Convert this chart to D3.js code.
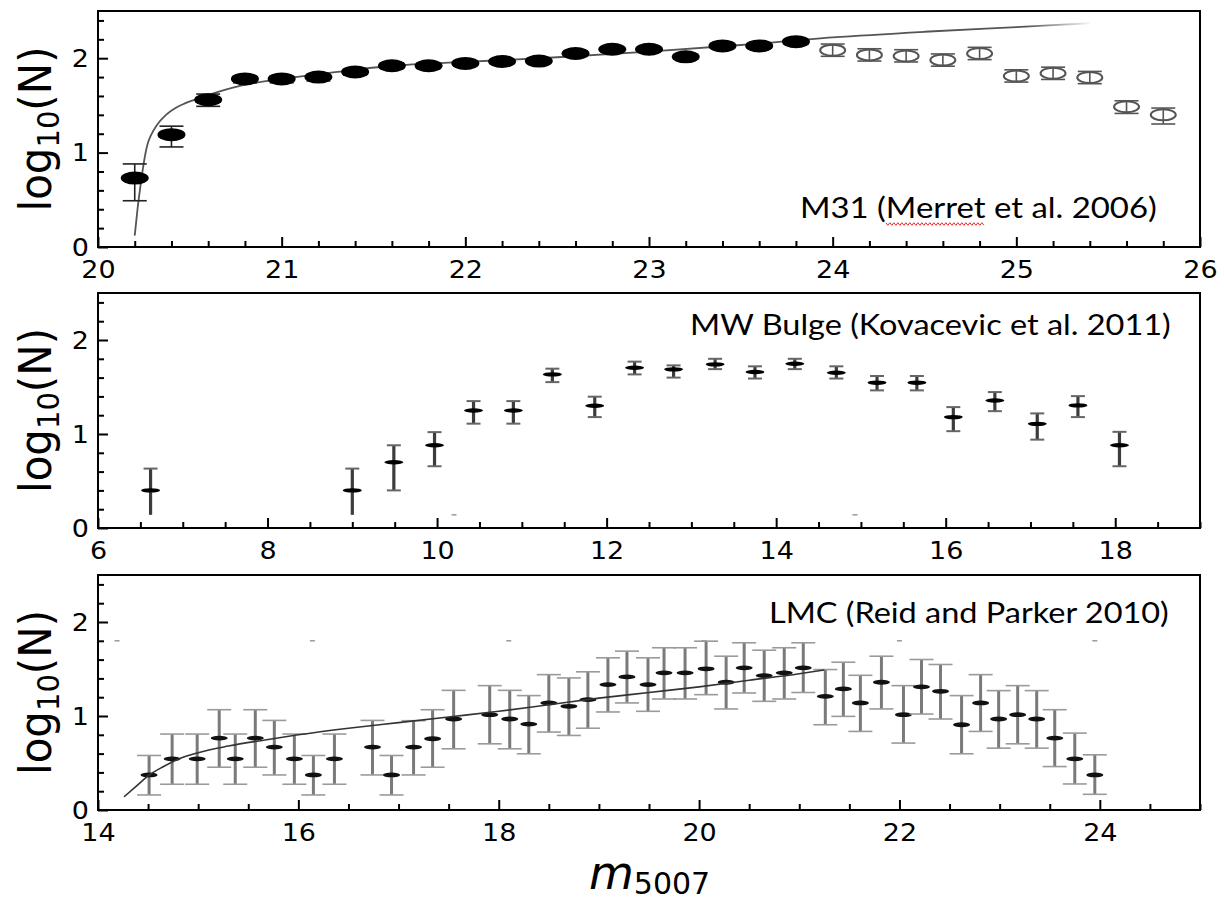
<!DOCTYPE html>
<html>
<head>
<meta charset="utf-8">
<script src="https://cdn.jsdelivr.net/npm/d3@7"></script>
<style>
  body { margin: 0; background: #fff; }
  svg { display: block; font-family: "DejaVu Sans", sans-serif; }
  text { fill: #000; }
</style>
</head>
<body>
<div id="viz"></div>
<script>

// ---- M31 (Merrett et al. 2006), filled points
var m31X  = [20.2, 20.4, 20.6, 20.8, 21.0, 21.2, 21.4, 21.6, 21.8, 22.0, 22.2, 22.4, 22.6, 22.8, 23.0, 23.2, 23.4, 23.6, 23.8];
var m31Y  = [0.73, 1.19, 1.56, 1.78, 1.78, 1.80, 1.855, 1.92, 1.92, 1.945, 1.965, 1.97, 2.05, 2.095, 2.095, 2.015, 2.13, 2.13, 2.175];
var m31Lo = [0.49, 1.06, 1.49, 1.74, 1.74, 1.76, 1.82, 1.89, 1.89, 1.92, 1.94, 1.94, 2.02, 2.07, 2.07, 1.99, 2.11, 2.11, 2.155];
var m31Hi = [0.88, 1.28, 1.62, 1.81, 1.81, 1.83, 1.88, 1.95, 1.95, 1.97, 1.99, 2.00, 2.08, 2.12, 2.12, 2.04, 2.15, 2.15, 2.195];

// M31 open points (beyond completeness limit)
var m31OpenX  = [24.0, 24.2, 24.4, 24.6, 24.8, 25.0, 25.2, 25.4, 25.6, 25.8];
var m31OpenY  = [2.085, 2.035, 2.024, 1.98, 2.05, 1.812, 1.84, 1.795, 1.486, 1.40];
var m31OpenLo = [2.02, 1.97, 1.96, 1.915, 1.985, 1.747, 1.775, 1.73, 1.415, 1.303];
var m31OpenHi = [2.15, 2.10, 2.09, 2.045, 2.115, 1.877, 1.905, 1.86, 1.549, 1.472];

// M31 fitted luminosity function
var m31FitX = [20.2, 20.215, 20.23, 20.25, 20.27, 20.29, 20.32, 20.37, 20.42, 20.46, 20.56, 20.65, 20.74, 20.83, 21.0, 21.28, 21.6, 22.0, 22.5, 23.0, 23.5, 24.0, 24.5, 25.0, 25.4];
var m31FitY = [0.12, 0.40, 0.63, 0.90, 1.09, 1.19, 1.29, 1.40, 1.47, 1.51, 1.58, 1.64, 1.69, 1.73, 1.78, 1.85, 1.92, 1.96, 2.01, 2.07, 2.14, 2.22, 2.28, 2.33, 2.37];

// ---- MW Bulge (Kovacevic et al. 2011)
var mwX  = [6.62, 9.0, 9.49, 9.97, 10.43, 10.9, 11.36, 11.86, 12.33, 12.79, 13.28, 13.75, 14.22, 14.71, 15.19, 15.66, 16.09, 16.58, 17.08, 17.56, 18.05];
var mwY  = [0.40, 0.40, 0.70, 0.88, 1.25, 1.25, 1.634, 1.30, 1.705, 1.688, 1.741, 1.66, 1.748, 1.652, 1.546, 1.546, 1.18, 1.357, 1.108, 1.304, 0.88];
var mwHi = [0.632, 0.632, 0.88, 1.02, 1.35, 1.35, 1.695, 1.397, 1.77, 1.73, 1.80, 1.72, 1.80, 1.72, 1.617, 1.617, 1.286, 1.446, 1.219, 1.403, 1.023];
var mwLo = [0.14, 0.14, 0.40, 0.657, 1.11, 1.11, 1.552, 1.18, 1.634, 1.60, 1.69, 1.59, 1.69, 1.59, 1.464, 1.464, 1.03, 1.243, 0.94, 1.18, 0.657];
var mwStrayX = [10.2, 14.93];
var mwStrayY = [0.14, 0.14];

// ---- LMC (Reid and Parker 2010)
var lmcX  = [14.51, 14.74, 14.99, 15.21, 15.37, 15.57, 15.76, 15.96, 16.15, 16.36, 16.74, 16.93, 17.15, 17.34, 17.55, 17.91, 18.11, 18.30, 18.50, 18.70, 18.89, 19.09, 19.28, 19.49, 19.65, 19.86, 20.07, 20.27, 20.45, 20.65, 20.85, 21.04, 21.26, 21.44, 21.61, 21.82, 22.04, 22.22, 22.41, 22.62, 22.81, 22.99, 23.18, 23.37, 23.55, 23.75, 23.95];
var lmcY  = [0.373, 0.544, 0.544, 0.765, 0.544, 0.765, 0.669, 0.544, 0.373, 0.544, 0.669, 0.373, 0.669, 0.758, 0.968, 1.014, 0.968, 0.914, 1.139, 1.103, 1.174, 1.334, 1.416, 1.334, 1.459, 1.459, 1.502, 1.359, 1.512, 1.43, 1.459, 1.512, 1.209, 1.288, 1.139, 1.359, 1.014, 1.31, 1.263, 0.907, 1.139, 0.968, 1.014, 0.968, 0.765, 0.544, 0.373];
var lmcHi = [0.58, 0.808, 0.808, 1.067, 0.808, 1.067, 0.953, 0.808, 0.58, 0.808, 0.953, 0.58, 0.95, 1.067, 1.273, 1.323, 1.273, 1.217, 1.44, 1.405, 1.47, 1.619, 1.69, 1.619, 1.726, 1.726, 1.796, 1.636, 1.779, 1.70, 1.726, 1.779, 1.494, 1.572, 1.433, 1.636, 1.323, 1.601, 1.548, 1.217, 1.44, 1.27, 1.323, 1.27, 1.067, 0.818, 0.587];
var lmcLo = [0.16, 0.274, 0.274, 0.455, 0.274, 0.455, 0.373, 0.274, 0.16, 0.274, 0.373, 0.16, 0.373, 0.455, 0.651, 0.704, 0.651, 0.598, 0.829, 0.793, 0.87, 1.043, 1.139, 1.05, 1.181, 1.181, 1.227, 1.075, 1.245, 1.156, 1.181, 1.25, 0.907, 0.996, 0.836, 1.075, 0.712, 1.021, 0.968, 0.598, 0.836, 0.658, 0.704, 0.658, 0.462, 0.277, 0.167];
var lmcFitX = [14.26, 14.4, 14.51, 14.65, 14.8, 15.0, 15.3, 15.7, 16.0, 16.5, 17.0, 17.5, 18.0, 18.5, 19.0, 19.5, 20.0, 20.5, 21.0, 21.25];
var lmcFitY = [0.14, 0.27, 0.37, 0.46, 0.54, 0.61, 0.68, 0.75, 0.80, 0.87, 0.93, 0.99, 1.05, 1.12, 1.19, 1.25, 1.31, 1.38, 1.45, 1.49];
var lmcStrayX = [14.19, 16.14, 18.1, 20.05, 22.0, 23.95];
var lmcStrayY = [1.8, 1.8, 1.8, 1.8, 1.8, 1.8];

// panel labels and axes
var panelLabels = ['M31 (Merret et al. 2006)', 'MW Bulge (Kovacevic et al. 2011)', 'LMC (Reid and Parker 2010)'];
var xDomains = [[20, 26], [6, 19], [14, 25]];
var xMajorStep = [1, 2, 2];
var xMinorStep = [0.2, 0.5, 0.5];
var yDomain = [0, 2.5];
var yMajor = [0, 1, 2];

var width = 1224, height = 901;
var left = 98, right = 1200;
var panelBox = [{top: 11, bottom: 247}, {top: 293, bottom: 528}, {top: 575, bottom: 810}];
var labelEnd = [1157, 1171, 1169];
var labelBase = [218, 335, 623];
var labelWidth = [357, 481, 400];
var tickStretch = 1.08;

var svg = d3.select('#viz').append('svg')
  .attr('width', width)
  .attr('height', height);

var defs = svg.append('defs');

function rows(xs, ys, lo, hi) {
  return xs.map(function(d, i) {
    return {x: d, y: ys[i], lo: lo ? lo[i] : null, hi: hi ? hi[i] : null};
  });
}

function steps(a, b, s) {
  var n = Math.floor((b - a) / s + 1e-6);
  return d3.range(n + 1).map(function(i) { return +(a + i * s).toFixed(4); });
}

var scales = panelBox.map(function(p, k) {
  var x = d3.scaleLinear().domain(xDomains[k]).range([left, right]);
  var y = d3.scaleLinear().domain(yDomain).range([p.bottom, p.top]);
  var g = svg.append('g').attr('class', 'panel' + k);

  var majors = steps(xDomains[k][0], xDomains[k][1], xMajorStep[k]);
  var minors = steps(xDomains[k][0], xDomains[k][1], xMinorStep[k]).filter(function(v) {
    return majors.indexOf(v) < 0;
  });
  var yMinors = steps(0, 2.4, 0.2).filter(function(v) { return yMajor.indexOf(v) < 0; });

  // minor ticks
  g.append('g')
    .attr('transform', 'translate(0,' + p.bottom + ')')
    .call(d3.axisBottom(x).tickValues(minors).tickSizeInner(-6).tickSizeOuter(0).tickFormat(''));
  g.append('g')
    .attr('transform', 'translate(' + left + ',0)')
    .call(d3.axisLeft(y).tickValues(yMinors).tickSizeInner(-6).tickSizeOuter(0).tickFormat(''));

  // major ticks + labels
  var xa = g.append('g')
    .attr('transform', 'translate(0,' + p.bottom + ')')
    .call(d3.axisBottom(x).tickValues(majors).tickSizeInner(-10).tickSizeOuter(0).tickPadding(13).tickFormat(d3.format('d')));
  var ya = g.append('g')
    .attr('transform', 'translate(' + left + ',0)')
    .call(d3.axisLeft(y).tickValues(yMajor).tickSizeInner(-10).tickSizeOuter(0).tickPadding(9).tickFormat(d3.format('d')));

  g.selectAll('.domain').remove();
  g.selectAll('.tick line').attr('stroke', '#000').attr('stroke-width', 2);
  g.selectAll('.tick text')
    .attr('font-family', '"DejaVu Sans", sans-serif')
    .attr('font-size', 25)
    .attr('fill', '#000');
  xa.selectAll('.tick text').attr('transform', 'scale(' + tickStretch + ',1)');
  ya.selectAll('.tick text')
    .attr('x', -9 / tickStretch)
    .attr('transform', 'scale(' + tickStretch + ',1)');

  // frame
  g.append('rect')
    .attr('x', left).attr('y', p.top)
    .attr('width', right - left).attr('height', p.bottom - p.top)
    .attr('fill', 'none').attr('stroke', '#000').attr('stroke-width', 2);

  // y title log10(N)
  var cy = (p.top + p.bottom) / 2;
  var yt = g.append('text')
    .attr('transform', 'translate(35,' + cy + ') scale(1.06,1) rotate(-90)')
    .attr('text-anchor', 'middle')
    .attr('dy', '0.35em')
    .attr('font-size', 42);
  yt.append('tspan').text('log');
  yt.append('tspan').attr('font-size', 29).attr('dy', 8).text('10');
  yt.append('tspan').attr('dy', -8).text('(N)');

  // panel label, fitted to the width seen in the figure
  var lab = g.append('text')
    .style('font-family', 'Lato, "Open Sans", sans-serif')
    .attr('font-size', 28)
    .text(panelLabels[k]);
  var w = lab.node().getComputedTextLength();
  var s = labelWidth[k] / w;
  lab.attr('transform', 'translate(' + (labelEnd[k] - labelWidth[k]) + ',' + labelBase[k] + ') scale(' + s + ',1)');

  if (k === 0) {
    // spell-check squiggle under "Merret"
    var node = lab.node();
    var x0 = labelEnd[k] - labelWidth[k] + node.getSubStringLength(0, 5) * s;
    var x1 = x0 + node.getSubStringLength(5, 6) * s;
    var pts = [];
    var yy = labelBase[k] + 6;
    for (var xx = x0, j = 0; xx <= x1; xx += 2, j++) pts.push([xx, yy + (j % 2 ? 1.3 : -1.3)]);
    g.append('path')
      .attr('d', d3.line()(pts))
      .attr('fill', 'none').attr('stroke', '#e8302a').attr('stroke-width', 1);
  }

  return {x: x, y: y, g: g};
});

// ---------- M31 panel
(function() {
  var x = scales[0].x, y = scales[0].y, g = scales[0].g;

  var grad = defs.append('linearGradient')
    .attr('id', 'fadeFit')
    .attr('gradientUnits', 'userSpaceOnUse')
    .attr('x1', x(25.05)).attr('x2', x(25.42)).attr('y1', 0).attr('y2', 0);
  grad.append('stop').attr('offset', 0).attr('stop-color', '#555').attr('stop-opacity', 1);
  grad.append('stop').attr('offset', 1).attr('stop-color', '#555').attr('stop-opacity', 0);

  var line = d3.line()
    .x(function(d) { return x(d.x); })
    .y(function(d) { return y(d.y); })
    .curve(d3.curveMonotoneX);

  g.append('path')
    .datum(rows(m31FitX, m31FitY))
    .attr('d', line)
    .attr('fill', 'none')
    .attr('stroke', 'url(#fadeFit)')
    .attr('stroke-width', 1.8);

  var filled = rows(m31X, m31Y, m31Lo, m31Hi);
  var open = rows(m31OpenX, m31OpenY, m31OpenLo, m31OpenHi);

  function errBars(sel, data, color, capW) {
    var e = sel.append('g').selectAll('g').data(data).enter().append('g');
    e.append('line')
      .attr('x1', function(d) { return x(d.x); }).attr('x2', function(d) { return x(d.x); })
      .attr('y1', function(d) { return y(d.lo); }).attr('y2', function(d) { return y(d.hi); })
      .attr('stroke', color).attr('stroke-width', 1.6);
    ['lo', 'hi'].forEach(function(k) {
      e.append('line')
        .attr('x1', function(d) { return x(d.x) - capW; }).attr('x2', function(d) { return x(d.x) + capW; })
        .attr('y1', function(d) { return y(d[k]); }).attr('y2', function(d) { return y(d[k]); })
        .attr('stroke', color).attr('stroke-width', 1.6);
    });
  }

  errBars(g, filled, '#222', 12);
  g.append('g').selectAll('ellipse').data(filled).enter().append('ellipse')
    .attr('cx', function(d) { return x(d.x); })
    .attr('cy', function(d) { return y(d.y); })
    .attr('rx', 14).attr('ry', 6.5)
    .attr('fill', '#000');

  g.append('g').selectAll('ellipse').data(open).enter().append('ellipse')
    .attr('cx', function(d) { return x(d.x); })
    .attr('cy', function(d) { return y(d.y); })
    .attr('rx', 12.5).attr('ry', 5.5)
    .attr('fill', '#fff')
    .attr('stroke', '#555').attr('stroke-width', 2);
  errBars(g, open, '#555', 12);
})();

// ---------- MW Bulge panel
(function() {
  var x = scales[1].x, y = scales[1].y, g = scales[1].g;
  var data = rows(mwX, mwY, mwLo, mwHi);
  var e = g.append('g').selectAll('g').data(data).enter().append('g');
  e.append('line')
    .attr('x1', function(d) { return x(d.x); }).attr('x2', function(d) { return x(d.x); })
    .attr('y1', function(d) { return y(d.lo); }).attr('y2', function(d) { return y(d.hi); })
    .attr('stroke', '#3c3c3c').attr('stroke-width', 3.2);
  e.append('line')
    .attr('x1', function(d) { return x(d.x) - 7; }).attr('x2', function(d) { return x(d.x) + 7; })
    .attr('y1', function(d) { return y(d.hi); }).attr('y2', function(d) { return y(d.hi); })
    .attr('stroke', '#666').attr('stroke-width', 2);
  e.filter(function(d) { return d.lo > 0.2; }).append('line')
    .attr('x1', function(d) { return x(d.x) - 7; }).attr('x2', function(d) { return x(d.x) + 7; })
    .attr('y1', function(d) { return y(d.lo); }).attr('y2', function(d) { return y(d.lo); })
    .attr('stroke', '#666').attr('stroke-width', 2);
  e.append('ellipse')
    .attr('cx', function(d) { return x(d.x); })
    .attr('cy', function(d) { return y(d.y); })
    .attr('rx', 9.5).attr('ry', 2.2)
    .attr('fill', '#000');

  g.append('g').selectAll('line').data(rows(mwStrayX, mwStrayY)).enter().append('line')
    .attr('x1', function(d) { return x(d.x) - 2.5; }).attr('x2', function(d) { return x(d.x) + 2.5; })
    .attr('y1', function(d) { return y(d.y); }).attr('y2', function(d) { return y(d.y); })
    .attr('stroke', '#999').attr('stroke-width', 1.5);
})();

// ---------- LMC panel
(function() {
  var x = scales[2].x, y = scales[2].y, g = scales[2].g;
  var data = rows(lmcX, lmcY, lmcLo, lmcHi);
  var e = g.append('g').selectAll('g').data(data).enter().append('g');
  e.append('line')
    .attr('x1', function(d) { return x(d.x); }).attr('x2', function(d) { return x(d.x); })
    .attr('y1', function(d) { return y(d.lo); }).attr('y2', function(d) { return y(d.hi); })
    .attr('stroke', '#7a7a7a').attr('stroke-width', 3);
  ['lo', 'hi'].forEach(function(k) {
    e.append('line')
      .attr('x1', function(d) { return x(d.x) - 12; }).attr('x2', function(d) { return x(d.x) + 12; })
      .attr('y1', function(d) { return y(d[k]); }).attr('y2', function(d) { return y(d[k]); })
      .attr('stroke', '#9a9a9a').attr('stroke-width', 1.6);
  });

  g.append('path')
    .datum(rows(lmcFitX, lmcFitY))
    .attr('d', d3.line().x(function(d) { return x(d.x); }).y(function(d) { return y(d.y); }).curve(d3.curveMonotoneX))
    .attr('fill', 'none').attr('stroke', '#333').attr('stroke-width', 1.6);

  e.append('ellipse')
    .attr('cx', function(d) { return x(d.x); })
    .attr('cy', function(d) { return y(d.y); })
    .attr('rx', 8.5).attr('ry', 2.4)
    .attr('fill', '#111');

  g.append('g').selectAll('line').data(rows(lmcStrayX, lmcStrayY)).enter().append('line')
    .attr('x1', function(d) { return x(d.x) - 2.5; }).attr('x2', function(d) { return x(d.x) + 2.5; })
    .attr('y1', function(d) { return y(d.y); }).attr('y2', function(d) { return y(d.y); })
    .attr('stroke', '#999').attr('stroke-width', 1.5);
})();

// x title m_5007
var xt = svg.append('text')
  .attr('x', 589)
  .attr('y', 889);
xt.append('tspan').attr('font-size', 46).attr('font-style', 'italic').text('m');
xt.append('tspan').attr('font-size', 30).attr('dy', 5).text('5007');

</script>
</body>
</html>
